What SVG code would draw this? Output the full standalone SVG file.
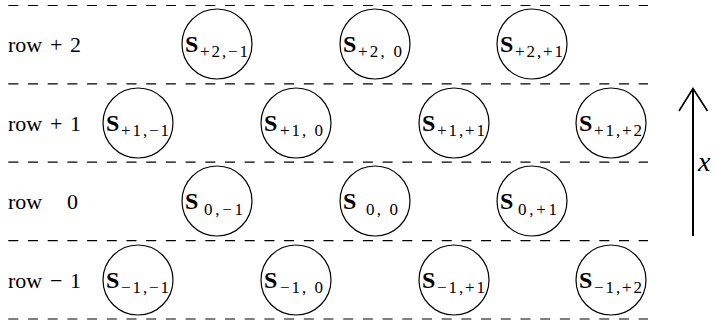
<svg xmlns="http://www.w3.org/2000/svg" width="715" height="326" viewBox="0 0 715 326" font-family="Liberation Serif, DejaVu Serif, serif">
<style>
.dash{stroke:#000;stroke-width:1.2;stroke-dasharray:10 9.7;fill:none}
.c{fill:#fff;stroke:#000;stroke-width:1.2}
.S{font-weight:bold;font-size:24px}
.sub{font-size:17px}
.lab{font-size:22px}
.ax{font-style:italic;font-size:28px}
</style>
<rect width="715" height="326" fill="#fff"/>
<g id="rows">
<line class="dash" x1="8.3" y1="5.5" x2="648" y2="5.5"/>
<line class="dash" x1="8.3" y1="83.8" x2="648" y2="83.8"/>
<line class="dash" x1="8.3" y1="162.2" x2="648" y2="162.2"/>
<line class="dash" x1="8.3" y1="240.6" x2="648" y2="240.6"/>
<line class="dash" x1="8.3" y1="319" x2="648" y2="319"/>
</g>
<g id="labels" font-family="Liberation Serif, serif">
<text class="lab" x="8" y="52">row</text><text class="lab" x="50" y="52" textLength="31" lengthAdjust="spacing">+2</text>
<text class="lab" x="8" y="131">row</text><text class="lab" x="50" y="131" textLength="31" lengthAdjust="spacing">+1</text>
<text class="lab" x="8" y="209">row</text><text class="lab" x="67" y="209">0</text>
<text class="lab" x="8" y="288">row</text><text class="lab" x="50" y="288" textLength="31" lengthAdjust="spacing">−1</text>
</g>
<g font-family="Liberation Serif, serif">
<g id="n_p2_m1"><circle class="c" cx="217" cy="44" r="35"/><text class="S" x="185" y="52">S</text><text class="sub" x="200" y="57" textLength="48" lengthAdjust="spacing">+2,−1</text></g>
<g id="n_p2_0"><circle class="c" cx="375" cy="44" r="35"/><text class="S" x="343" y="52">S</text><text class="sub" x="358" y="57" textLength="44" lengthAdjust="spacing">+2, 0</text></g>
<g id="n_p2_p1"><circle class="c" cx="532" cy="44" r="35"/><text class="S" x="500" y="52">S</text><text class="sub" x="515" y="57" textLength="48" lengthAdjust="spacing">+2,+1</text></g>

<g id="n_p1_m1"><circle class="c" cx="138" cy="123" r="35"/><text class="S" x="106" y="131">S</text><text class="sub" x="121" y="136" textLength="48" lengthAdjust="spacing">+1,−1</text></g>
<g id="n_p1_0"><circle class="c" cx="296" cy="123" r="35"/><text class="S" x="264" y="131">S</text><text class="sub" x="280" y="136" textLength="43" lengthAdjust="spacing">+1, 0</text></g>
<g id="n_p1_p1"><circle class="c" cx="454" cy="123" r="35"/><text class="S" x="422" y="131">S</text><text class="sub" x="437" y="136" textLength="48" lengthAdjust="spacing">+1,+1</text></g>
<g id="n_p1_p2"><circle class="c" cx="611" cy="123" r="35"/><text class="S" x="579" y="131">S</text><text class="sub" x="594" y="136" textLength="48" lengthAdjust="spacing">+1,+2</text></g>

<g id="n_0_m1"><circle class="c" cx="217" cy="201" r="35"/><text class="S" x="185" y="209">S</text><text class="sub" x="204" y="215" textLength="39" lengthAdjust="spacing">0,−1</text></g>
<g id="n_0_0"><circle class="c" cx="375" cy="201" r="35"/><text class="S" x="343" y="209">S</text><text class="sub" x="366" y="215" textLength="32" lengthAdjust="spacing">0, 0</text></g>
<g id="n_0_p1"><circle class="c" cx="532" cy="201" r="35"/><text class="S" x="500" y="209">S</text><text class="sub" x="518" y="215" textLength="39" lengthAdjust="spacing">0,+1</text></g>

<g id="n_m1_m1"><circle class="c" cx="138" cy="280" r="35"/><text class="S" x="106" y="288">S</text><text class="sub" x="121" y="293" textLength="48" lengthAdjust="spacing">−1,−1</text></g>
<g id="n_m1_0"><circle class="c" cx="296" cy="280" r="35"/><text class="S" x="264" y="288">S</text><text class="sub" x="280" y="293" textLength="43" lengthAdjust="spacing">−1, 0</text></g>
<g id="n_m1_p1"><circle class="c" cx="454" cy="280" r="35"/><text class="S" x="422" y="288">S</text><text class="sub" x="437" y="293" textLength="48" lengthAdjust="spacing">−1,+1</text></g>
<g id="n_m1_p2"><circle class="c" cx="611" cy="280" r="35"/><text class="S" x="579" y="288">S</text><text class="sub" x="594" y="293" textLength="48" lengthAdjust="spacing">−1,+2</text></g>
</g>
<g id="connectors">
<line x1="693" y1="236" x2="693" y2="89" stroke="#000" stroke-width="2"/>
<polyline points="679,111 693,88.5 707.5,111" fill="none" stroke="#000" stroke-width="1.6"/>
<text class="ax" x="698" y="171" font-family="Liberation Serif, serif">x</text>
</g>
</svg>
